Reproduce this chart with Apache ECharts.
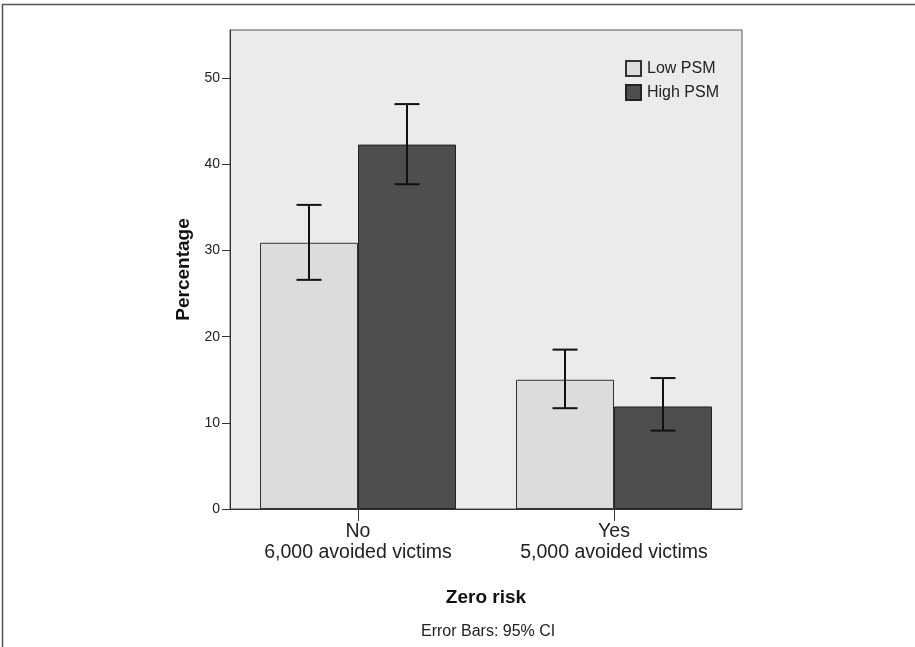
<!DOCTYPE html>
<html>
<head>
<meta charset="utf-8">
<script src="https://cdn.jsdelivr.net/npm/echarts@6/dist/echarts.min.js"></script>
<style>
html,body{margin:0;padding:0;background:#fff;}
#chart{width:915px;height:647px;}
</style>
</head>
<body>
<div id="chart"></div>
<script>
// ---- data ----
var categories = ['No\n6,000 avoided victims', 'Yes\n5,000 avoided victims'];
var seriesNames = ['Low PSM', 'High PSM'];
var lowPSM = [30.9, 15.0];
var highPSM = [42.3, 11.9];
var lowPSM_ciLower = [26.6, 11.7];
var lowPSM_ciUpper = [35.3, 18.5];
var highPSM_ciLower = [37.7, 9.1];
var highPSM_ciUpper = [47.0, 15.2];
var yTicks = [0, 10, 20, 30, 40, 50];
var yMax = 55.6;

var FONT = '"Liberation Sans", Arial, sans-serif';
var BAR_W = 98;

function errData(lo, hi) {
  return categories.map(function (c, i) { return [i, lo[i], hi[i]]; });
}
function errRender(offset) {
  return function (params, api) {
    var idx = api.value(0);
    var top = api.coord([idx, api.value(2)]);
    var bot = api.coord([idx, api.value(1)]);
    var x = top[0] + offset;
    var cap = 12.5;
    var style = { stroke: '#111', lineWidth: 2 };
    return {
      type: 'group',
      children: [
        { type: 'line', shape: { x1: x, y1: top[1], x2: x, y2: bot[1] }, style: style },
        { type: 'line', shape: { x1: x - cap, y1: top[1], x2: x + cap, y2: top[1] }, style: style },
        { type: 'line', shape: { x1: x - cap, y1: bot[1], x2: x + cap, y2: bot[1] }, style: style }
      ]
    };
  };
}

var chart = echarts.init(document.getElementById('chart'), null, { renderer: 'canvas' });
var option = {
  backgroundColor: '#ffffff',
  animation: false,
  textStyle: { fontFamily: FONT },
  title: {
    text: 'Error Bars: 95% CI',
    left: 421,
    top: 624,
    padding: 0,
    textStyle: { fontFamily: FONT, fontSize: 16, fontWeight: 'normal', color: '#222', lineHeight: 16 }
  },
  legend: {
    data: seriesNames,
    orient: 'vertical',
    left: 625,
    top: 60,
    padding: 0,
    itemWidth: 15,
    itemHeight: 15,
    itemGap: 7,
    icon: 'rect',
    textStyle: { fontFamily: FONT, fontSize: 16, color: '#222', lineHeight: 15, padding: [0, 0, 0, 1] }
  },
  grid: {
    left: 230,
    top: 30,
    width: 512,
    height: 479,
    show: true,
    backgroundColor: '#ebebeb',
    borderColor: '#555',
    borderWidth: 1,
    containLabel: false
  },
  xAxis: {
    type: 'category',
    data: categories,
    axisLine: { show: true, lineStyle: { color: '#333', width: 1 } },
    axisTick: { show: true, alignWithLabel: true, length: 12, lineStyle: { color: '#333', width: 1 } },
    axisLabel: { fontFamily: FONT, fontSize: 19.5, lineHeight: 21, color: '#222', margin: 12.5 },
    name: 'Zero risk',
    nameLocation: 'middle',
    nameGap: 79,
    nameTextStyle: { fontFamily: FONT, fontSize: 19, fontWeight: 'bold', color: '#111', lineHeight: 20 }
  },
  yAxis: {
    type: 'value',
    min: 0,
    max: yMax,
    interval: 10,
    splitLine: { show: false },
    axisLine: { show: true, lineStyle: { color: '#333', width: 1 } },
    axisTick: { show: true, length: 8, customValues: yTicks, lineStyle: { color: '#333', width: 1 } },
    axisLabel: { fontFamily: FONT, fontSize: 14, color: '#222', margin: 10, customValues: yTicks },
    name: 'Percentage',
    nameLocation: 'middle',
    nameGap: 37,
    nameTextStyle: { fontFamily: FONT, fontSize: 19, fontWeight: 'bold', color: '#111', lineHeight: 19 }
  },
  graphic: [
    {
      type: 'polyline',
      shape: { points: [[2.5, 647], [2.5, 4.5], [915, 4.5]] },
      style: { stroke: '#555', lineWidth: 1.5, fill: null },
      silent: true
    }
  ],
  series: [
    {
      name: seriesNames[0],
      type: 'bar',
      data: lowPSM,
      barWidth: BAR_W,
      barGap: '0%',
      itemStyle: { color: '#dcdcdc', borderColor: '#333', borderWidth: 1 }
    },
    {
      name: seriesNames[1],
      type: 'bar',
      data: highPSM,
      barWidth: BAR_W,
      barGap: '0%',
      itemStyle: { color: '#4e4e4e', borderColor: '#222', borderWidth: 1 }
    },
    {
      type: 'custom',
      name: 'errLow',
      data: errData(lowPSM_ciLower, lowPSM_ciUpper),
      renderItem: errRender(-BAR_W / 2),
      encode: { x: 0, y: [1, 2] },
      z: 10,
      silent: true
    },
    {
      type: 'custom',
      name: 'errHigh',
      data: errData(highPSM_ciLower, highPSM_ciUpper),
      renderItem: errRender(BAR_W / 2),
      encode: { x: 0, y: [1, 2] },
      z: 10,
      silent: true
    }
  ]
};
chart.setOption(option);
</script>
</body>
</html>
